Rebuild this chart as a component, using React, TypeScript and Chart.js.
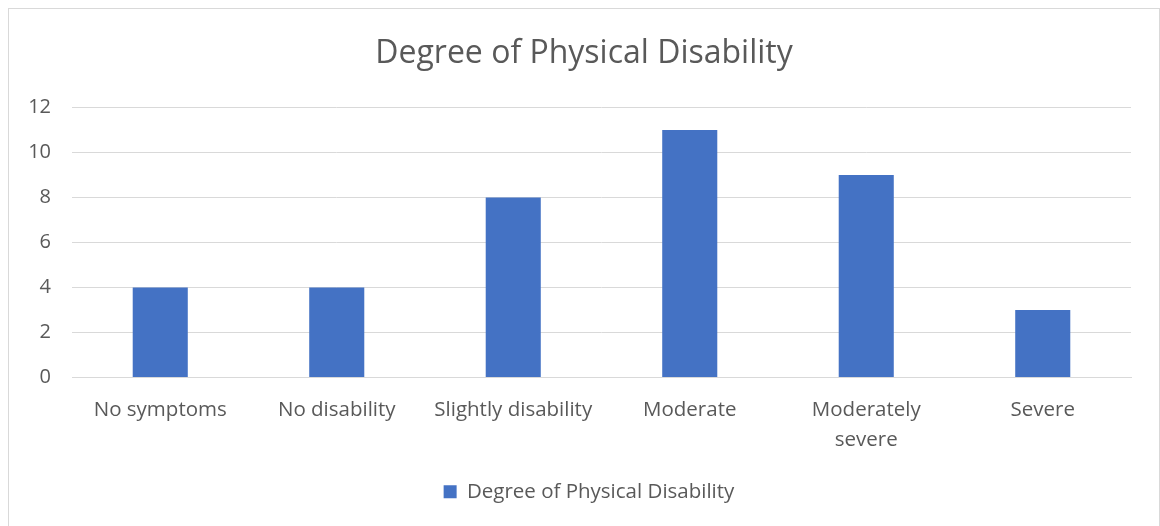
import React, { useEffect, useRef } from "react";
import { Chart, registerables } from "chart.js";

Chart.register(...registerables);

const categories: (string | string[])[] = [
  "No symptoms",
  "No disability",
  "Slightly disability",
  "Moderate",
  ["Moderately", "severe"],
  "Severe",
];
const seriesName = "Degree of Physical Disability";
const seriesValues = [4, 4, 8, 11, 9, 3];
const yTicks = [0, 2, 4, 6, 8, 10, 12];

const TEXT = "#595959";
const GRID = "#d9d9d9";
const BAR = "#4472C4";
const FONT = "'Open Sans', 'Noto Sans', sans-serif";

// Title and legend are centred on the whole chart frame rather than on the
// area left after the right-hand padding, so nudge their boxes across.
const recentre = {
  id: "recentre",
  afterLayout(chart: any) {
    const t = chart.titleBlock;
    if (t) {
      t.left += 14;
      t.right += 14;
    }
    const l = chart.legend;
    if (l) {
      l.left += 19;
      l.right += 19;
    }
  },
};

export default function App() {
  const ref = useRef<HTMLCanvasElement | null>(null);

  useEffect(() => {
    if (!ref.current) return;
    const chart = new Chart(ref.current, {
      type: "bar",
      data: {
        labels: categories,
        datasets: [
          {
            label: seriesName,
            data: seriesValues,
            backgroundColor: BAR,
            borderWidth: 0,
            barPercentage: 0.312,
            categoryPercentage: 1,
          },
        ],
      },
      options: {
        animation: false,
        responsive: false,
        maintainAspectRatio: false,
        layout: { padding: { left: 0, right: 28, top: 0, bottom: 0 } },
        plugins: {
          title: {
            display: true,
            text: "Degree of Physical Disability",
            color: TEXT,
            font: { family: FONT, size: 32, weight: "normal" },
            padding: { top: 26, bottom: 34 },
          },
          legend: {
            display: true,
            position: "bottom",
            labels: {
              color: TEXT,
              font: { family: FONT, size: 20.5 },
              boxWidth: 13,
              boxHeight: 13,
              padding: 10,
            },
          },
          tooltip: { enabled: false },
        },
        scales: {
          x: {
            grid: { display: false, drawTicks: false },
            border: { display: true, color: GRID, width: 1 },
            ticks: {
              color: TEXT,
              font: { family: FONT, size: 20.5, lineHeight: 1.45 },
              padding: 18,
              maxRotation: 0,
              autoSkip: false,
            },
            afterFit: (scale: any) => {
              scale.height = 94;
            },
          },
          y: {
            min: 0,
            max: 12,
            afterBuildTicks: (scale: any) => {
              scale.ticks = yTicks.map((v) => ({ value: v }));
            },
            grid: { color: GRID, lineWidth: 1, drawTicks: false },
            border: { display: false },
            ticks: {
              color: TEXT,
              font: { family: FONT, size: 20 },
              padding: 21,
            },
            afterFit: (scale: any) => {
              scale.width = 63;
            },
          },
        },
      },
      plugins: [recentre],
    });
    return () => chart.destroy();
  }, []);

  return (
    <div
      style={{
        position: "fixed",
        left: 8,
        top: 8,
        width: 1152,
        height: 540,
        boxSizing: "border-box",
        border: `1px solid ${GRID}`,
        background: "#fff",
      }}
    >
      <canvas ref={ref} width={1150} height={503} style={{ display: "block" }} />
    </div>
  );
}
